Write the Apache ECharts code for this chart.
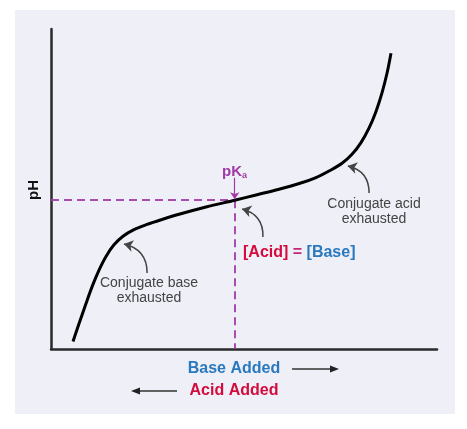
<!DOCTYPE html>
<html>
<head>
<meta charset="utf-8">
<script src="https://cdn.jsdelivr.net/npm/echarts@6/dist/echarts.min.js"></script>
<style>
  html, body { margin: 0; padding: 0; background: #ffffff; }
  #chart { width: 467px; height: 429px; }
</style>
</head>
<body>
<div id="chart"></div>
<script>
// Titration curve (base added, arbitrary units 0-100) vs pH (arbitrary 0-100)
const baseAdded = [5.70, 7.38, 9.07, 10.75, 12.44, 14.25, 16.32, 18.65, 21.50, 24.87, 28.76, 33.42, 40.16, 47.60, 53.11, 58.81, 64.51, 68.65, 72.28, 75.39, 77.98, 80.31, 82.38, 84.20, 85.75, 87.05, 88.08];
const pHValues  = [2.34, 8.33, 14.22, 19.80, 24.67, 28.94, 32.56, 35.23, 37.30, 38.92, 40.47, 42.17, 44.36, 46.50, 48.13, 49.84, 51.78, 53.59, 55.78, 58.03, 60.84, 64.50, 69.00, 74.25, 80.06, 86.16, 92.41];
const pKaPoint = [47.6, 46.5];
const axisNames = { y: 'pH', xBase: 'Base Added', xAcid: 'Acid Added' };
const notes = { base: 'Conjugate base\nexhausted', acid: 'Conjugate acid\nexhausted' };

const curveData = baseAdded.map((x, i) => [x, pHValues[i]]);

const chart = echarts.init(document.getElementById('chart'), null, { renderer: 'canvas' });

const font = '"Liberation Sans", Arial, Helvetica, sans-serif';
const purple = '#a03aa6';
const red = '#d40b3c';
const blue = '#2a78be';

chart.setOption({
  animation: false,
  backgroundColor: '#ffffff',
  grid: { left: 51, right: 30, top: 29, bottom: 80 },
  xAxis: {
    type: 'value', min: 0, max: 100,
    axisLine: { show: true, onZero: false, lineStyle: { color: '#2a2a2a', width: 2.5 } },
    axisTick: { show: false }, axisLabel: { show: false }, splitLine: { show: false }
  },
  yAxis: {
    type: 'value', min: 0, max: 100,
    axisLine: { show: true, onZero: false, lineStyle: { color: '#2a2a2a', width: 2.5 } },
    axisTick: { show: false }, axisLabel: { show: false }, splitLine: { show: false }
  },
  graphic: [
    { type: 'rect', z: -10, shape: { x: 15, y: 10, width: 440, height: 404 }, style: { fill: '#eeeff7' } },
    { type: 'text', x: 34, y: 190, rotation: Math.PI / 2, style: { text: axisNames.y, font: 'bold 15px ' + font, fill: '#111', align: 'center', verticalAlign: 'middle' } },
    { type: 'text', x: 234, y: 369, style: { text: axisNames.xBase, font: 'bold 16px ' + font, fill: blue, align: 'center', verticalAlign: 'middle' } },
    { type: 'text', x: 234, y: 391, style: { text: axisNames.xAcid, font: 'bold 16px ' + font, fill: red, align: 'center', verticalAlign: 'middle' } },
    { type: 'line', shape: { x1: 292, y1: 369, x2: 331, y2: 369 }, style: { stroke: '#333', lineWidth: 1.5 } },
    { type: 'polygon', shape: { points: [[339, 369], [330, 365.5], [330, 372.5]] }, style: { fill: '#222' } },
    { type: 'line', shape: { x1: 177, y1: 391, x2: 139, y2: 391 }, style: { stroke: '#333', lineWidth: 1.5 } },
    { type: 'polygon', shape: { points: [[131, 391], [140, 387.5], [140, 394.5]] }, style: { fill: '#222' } },
    { type: 'text', x: 149, y: 291, style: { text: notes.base, font: '14px ' + font, fill: '#444', align: 'center', verticalAlign: 'middle', lineHeight: 15 } },
    { type: 'text', x: 374, y: 212, style: { text: notes.acid, font: '14px ' + font, fill: '#444', align: 'center', verticalAlign: 'middle', lineHeight: 15 } },
    { type: 'text', x: 243, y: 253, style: {
        text: '{r|[Acid] }{g|= }{b|[Base]}', verticalAlign: 'middle',
        rich: {
          r: { font: 'bold 16px ' + font, fill: red },
          g: { font: 'bold 16px ' + font, fill: '#c0287a' },
          b: { font: 'bold 16px ' + font, fill: blue }
        } } },
    { type: 'text', x: 222, y: 172, style: {
        text: '{k|pK}{s|a}', verticalAlign: 'middle',
        rich: {
          k: { font: 'bold 15px ' + font, fill: purple },
          s: { font: 'bold 9px ' + font, fill: purple, padding: [8, 0, 0, 0] }
        } } }
  ],
  series: [
    {
      type: 'line', data: curveData, smooth: 0.35, showSymbol: false, z: 5,
      lineStyle: { color: '#000', width: 3 },
      markLine: {
        silent: true, symbol: ['none', 'none'], label: { show: false },
        lineStyle: { color: purple, type: [8, 5], width: 2, opacity: 0.9 },
        data: [
          [{ coord: [0, pKaPoint[1]] }, { coord: [pKaPoint[0], pKaPoint[1]] }],
          [{ coord: [pKaPoint[0], pKaPoint[1]] }, { coord: [pKaPoint[0], 0] }]
        ]
      }
    },
    {
      type: 'lines', coordinateSystem: 'cartesian2d', z: 6, silent: true,
      symbol: ['none', 'arrow'], symbolSize: 9,
      lineStyle: { color: '#444', width: 1.5, opacity: 1, curveness: -0.4 },
      data: [
        { coords: [[24.9, 23.75], [18.9, 32.8]] },
        { coords: [[82.4, 48.75], [76.9, 57.2]] },
        { coords: [[54.9, 35.0], [49.5, 43.75]] },
        { coords: [[pKaPoint[0], 53.5], [pKaPoint[0], pKaPoint[1] + 0.3]], lineStyle: { color: purple, width: 1.2, curveness: 0 }, symbolSize: 7 }
      ]
    }
  ]
});
</script>
</body>
</html>
